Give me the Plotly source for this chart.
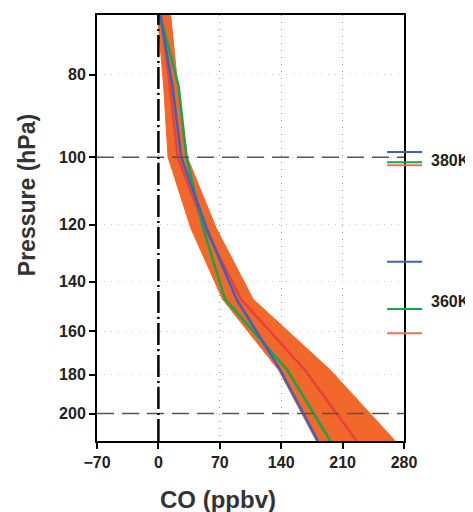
import numpy as np
import plotly.graph_objects as go

# ---- data ----
levels = [68.1, 82.5, 100.0, 121.2, 146.8, 177.8, 215.4]
blue = [2, 16, 26, 55, 89, 139, 182]
green = [2, 23, 32, 51, 76, 147, 196]
red = [3, 13, 22, 53, 94, 167, 226]
band_lo = [-1, 6, 11, 37, 73, 137, 180]
band_hi = [14, 22, 33, 66, 108, 196, 270]

x_ticks = [-70, 0, 70, 140, 210, 280]
y_ticks = [80, 100, 120, 140, 160, 180, 200]

# tropopause-level markers (hPa) on the right edge
k380 = {"blue": 98.6, "green": 101.4, "red": 102.2}
k360 = {"blue": 132.7, "green": 150.8, "red": 161.0}
k_labels = [("380K", 100.8), ("360K", 147.9)]

C_BLUE = "#3a62c0"
C_GREEN = "#12a84a"
C_RED = "#e8403f"
C_RED_MARK = "#f0705c"
C_ORANGE = "#f2672a"
FONT = "Liberation Sans"

fig = go.Figure()

# orange spread band
fig.add_trace(go.Scatter(x=band_lo, y=levels, mode="lines",
                         line=dict(color=C_ORANGE, width=1), showlegend=False))
fig.add_trace(go.Scatter(x=band_hi, y=levels, mode="lines", fill="tonextx",
                         fillcolor=C_ORANGE, line=dict(color=C_ORANGE, width=1),
                         showlegend=False))
fig.add_trace(go.Scatter(x=red, y=levels, mode="lines",
                         line=dict(color=C_RED, width=2.5), showlegend=False))
fig.add_trace(go.Scatter(x=green, y=levels, mode="lines",
                         line=dict(color=C_GREEN, width=2.5), showlegend=False))
fig.add_trace(go.Scatter(x=blue, y=levels, mode="lines",
                         line=dict(color=C_BLUE, width=2.5), showlegend=False))

shapes = []
# horizontal dashed reference lines
for p in [100, 200]:
    shapes.append(dict(type="line", xref="paper", yref="y", x0=0, x1=1, y0=p, y1=p,
                       line=dict(color="#555555", width=1.5, dash="17px,8px"), layer="above"))
# vertical zero line
shapes.append(dict(type="line", xref="x", yref="paper", x0=0, x1=0, y0=0, y1=1,
                   line=dict(color="black", width=2.5, dash="22px,4px,2px,4px"), layer="above"))
# right-side markers
colmap = {"blue": C_BLUE, "green": C_GREEN, "red": C_RED_MARK}
for d in (k380, k360):
    for k, p in d.items():
        shapes.append(dict(type="line", xref="paper", yref="y", x0=0.945, x1=1.059,
                           y0=p, y1=p, line=dict(color=colmap[k], width=2)))

annotations = []
for txt, p in k_labels:
    annotations.append(dict(text=txt, xref="paper", yref="y", x=1.083, y=np.log10(p),
                            xanchor="left", yanchor="middle", showarrow=False,
                            font=dict(family=FONT, size=16, color="#222222", weight="bold")))
annotations.append(dict(text="Pressure (hPa)", xref="paper", yref="paper", x=-0.228, y=0.577,
                        textangle=-90, showarrow=False, xanchor="center", yanchor="middle",
                        font=dict(family=FONT, size=23, color="#333333", weight="bold")))
annotations.append(dict(text="CO (ppbv)", xref="paper", yref="paper", x=0.394, y=-0.137,
                        showarrow=False, xanchor="center", yanchor="middle",
                        font=dict(family=FONT, size=24, color="#333333", weight="bold")))

# page body has an 8px margin, so the figure is 8px smaller and shifted
fig.update_layout(
    width=465, height=504,
    margin=dict(l=89, r=69, t=5, b=71),
    paper_bgcolor="white", plot_bgcolor="white",
    shapes=shapes, annotations=annotations,
    showlegend=False,
)
fig.update_xaxes(range=[-70, 280], tickvals=x_ticks,
                 ticktext=[("\u2212" + str(-v)) if v < 0 else str(v) for v in x_ticks],
                 ticks="outside", ticklen=6, tickwidth=1.5, tickcolor="black",
                 showline=True, linecolor="black", linewidth=2, mirror=True,
                 showgrid=True, gridcolor="#999999", griddash="1px,6px", gridwidth=1,
                 zeroline=False,
                 tickfont=dict(family=FONT, size=16, color="#222222", weight="bold"))
fig.update_yaxes(type="log", range=[np.log10(215.4), np.log10(68.1)], tickvals=y_ticks,
                 ticktext=[str(v) for v in y_ticks],
                 ticks="outside", ticklen=6, tickwidth=1.5, tickcolor="black",
                 showline=True, linecolor="black", linewidth=2, mirror=True,
                 showgrid=True, gridcolor="#cccccc", griddash="1px,6px", gridwidth=1,
                 zeroline=False,
                 tickfont=dict(family=FONT, size=16, color="#222222", weight="bold"))

fig.write_html("out.html")
